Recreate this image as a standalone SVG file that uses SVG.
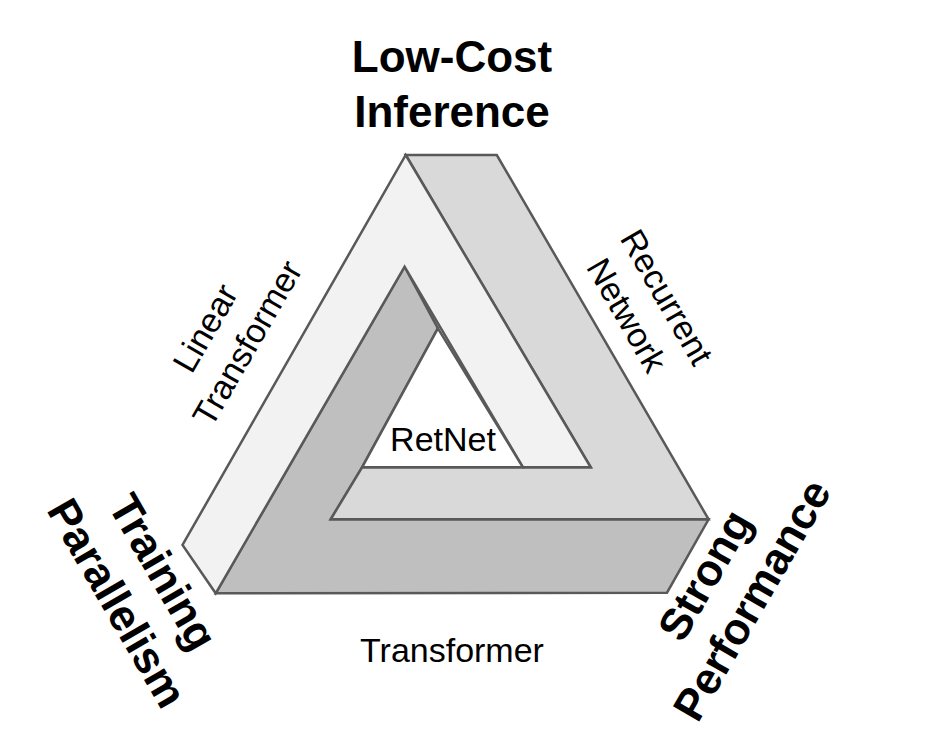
<svg xmlns="http://www.w3.org/2000/svg" width="950" height="742" viewBox="0 0 950 742">
<style>
.f{stroke:#595959;stroke-width:2.5;stroke-linejoin:miter}
.b{font-family:"Liberation Sans",Arial,sans-serif;font-weight:bold;font-size:44px;fill:#000;text-anchor:middle}
.r{font-family:"Liberation Sans",Arial,sans-serif;font-size:34px;fill:#000;text-anchor:middle}
</style>
<rect width="950" height="742" fill="#fff"/>
<g id="triangle">
<polygon class="f" fill="#bfbfbf" points="404.6,266.7 437.9,328.3 362.1,467.3 330.7,519.3 708.6,519.3 667,592.7 215.7,593.3"/>
<polygon class="f" fill="#d9d9d9" points="405.7,155 496.8,155 708.6,519.3 330.7,519.3 362.1,467.3 590.7,467.3"/>
<polygon class="f" fill="#f2f2f2" points="405.7,155 590.7,467.3 522.9,467.3 404.6,266.7 215.7,593.3 182.5,545"/>
<polygon class="f" fill="#fff" points="437.9,328.3 522.9,467.3 362.1,467.3"/>
</g>
<g id="labels">
<text class="b" x="452" y="72">Low-Cost</text>
<text class="b" x="452" y="127">Inference</text>
<text class="r" x="443" y="451">RetNet</text>
<text class="r" x="452" y="662">Transformer</text>
<g transform="translate(205,328) rotate(-60)"><text class="r" y="12">Linear</text></g>
<g transform="translate(247,343) rotate(-60)"><text class="r" y="12">Transformer</text></g>
<g transform="translate(667,297) rotate(60)"><text class="r" y="12">Recurrent</text></g>
<g transform="translate(627,315) rotate(60)"><text class="r" y="12">Network</text></g>
<g transform="translate(163,572) rotate(60)"><text class="b" y="15">Training</text></g>
<g transform="translate(117,603) rotate(60)"><text class="b" y="15">Parallelism</text></g>
<g transform="translate(705,575) rotate(-60)"><text class="b" y="15">Strong</text></g>
<g transform="translate(752,600) rotate(-60)"><text class="b" y="15">Performance</text></g>
</g>
</svg>
